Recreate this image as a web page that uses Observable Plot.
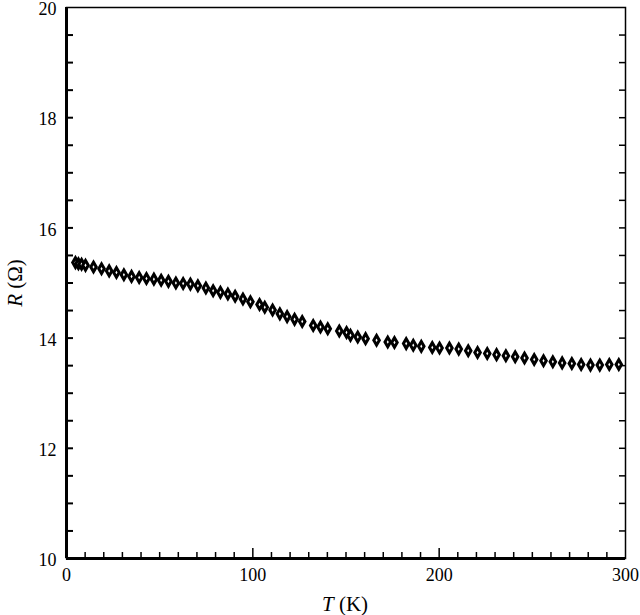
<!DOCTYPE html>
<html><head><meta charset="utf-8">
<script src="https://cdn.jsdelivr.net/npm/d3@7"></script>
<script src="https://cdn.jsdelivr.net/npm/@observablehq/plot@0.6"></script>
<style>body{margin:0;background:#fff}svg{display:block}
svg text{font-family:"Liberation Serif","DejaVu Serif",serif !important;}</style>
</head><body><div id="chart"></div>
<script>
const temperatureK = [4.8,6.4,8.1,10.2,14.5,18.8,22.9,26.8,30.8,34.9,39.0,42.9,46.9,50.8,54.7,58.7,62.6,66.5,70.5,74.8,78.7,82.6,86.6,90.5,94.7,98.7,103.6,106.4,110.6,114.5,118.4,122.4,126.5,132.4,136.3,140.2,146.4,150.3,152.4,156.3,160.5,166.4,172.4,176.0,182.3,186.1,190.4,196.3,200.2,205.5,210.5,215.6,220.6,225.8,230.8,235.8,240.8,245.8,251.0,256.0,261.0,266.0,271.2,276.2,281.2,286.2,291.3,296.4];
const resistanceOhm = [15.37,15.35,15.34,15.32,15.29,15.26,15.22,15.19,15.15,15.12,15.10,15.08,15.07,15.05,15.03,15.00,14.99,14.98,14.95,14.91,14.86,14.83,14.80,14.76,14.71,14.66,14.61,14.56,14.51,14.44,14.39,14.34,14.30,14.23,14.20,14.17,14.13,14.10,14.05,14.02,13.99,13.96,13.93,13.92,13.90,13.87,13.85,13.83,13.82,13.82,13.80,13.77,13.74,13.72,13.70,13.68,13.66,13.64,13.61,13.59,13.57,13.55,13.54,13.52,13.51,13.51,13.52,13.52];
const xTickLabels = [0,100,200,300];
const yTickLabels = [10,12,14,16,18,20];

const data = temperatureK.map((t,i)=>({T:t,R:resistanceOhm[i]}));
const xMinor = d3.range(10,300,10).filter(v=>v%100!==0);
const xMajor = [100,200];
const yMinor = d3.range(10.5,20,0.5);

const chart = Plot.plot({
  width:640, height:615,
  marginLeft:66, marginRight:15, marginTop:7, marginBottom:57,
  style:{fontSize:"18px", color:"#000", background:"#fff"},
  x:{domain:[0,300]},
  y:{domain:[10,20]},
  marks:[
    Plot.frame({stroke:"#000", strokeWidth:1.5}),
    Plot.axisX({ticks:xMinor, tickSize:-6, tickFormat:()=>"", strokeWidth:1.5, label:null}),
    Plot.axisX({ticks:xMajor, tickSize:-10, tickFormat:()=>"", strokeWidth:1.5, label:null}),
    Plot.axisX({ticks:xTickLabels, tickSize:0, tickPadding:10, label:null, fill:"#000"}),
    Plot.axisY({ticks:yMinor, tickSize:-7, tickFormat:()=>"", strokeWidth:2, label:null}),
    Plot.axisY({ticks:yMinor, anchor:"right", tickSize:-7, tickFormat:()=>"", strokeWidth:1.5, label:null}),
    Plot.axisY({ticks:yTickLabels, tickSize:0, tickPadding:10, label:null, fill:"#000", dy:2}),
    Plot.ruleX([0], {stroke:"#000", strokeWidth:3}),
    Plot.ruleY([10], {stroke:"#000", strokeWidth:3}),
    Plot.dot(data, {x:"T", y:"R", symbol:"diamond", r:2.9, fill:"#fff", stroke:"#000", strokeWidth:3})
  ]
});
const svg = d3.select(chart);
const xt = svg.append("text").attr("x",345).attr("y",611).attr("text-anchor","middle")
  .style("font-size","21px").attr("fill","#000");
xt.append("tspan").style("font-style","italic").text("T");
xt.append("tspan").text(" (K)");
const yt = svg.append("text").attr("transform","translate(22,283) rotate(-90)").attr("text-anchor","middle")
  .style("font-size","21px").attr("fill","#000");
yt.append("tspan").style("font-style","italic").text("R");
yt.append("tspan").text(" (Ω)");
document.getElementById("chart").append(chart);
</script></body></html>
